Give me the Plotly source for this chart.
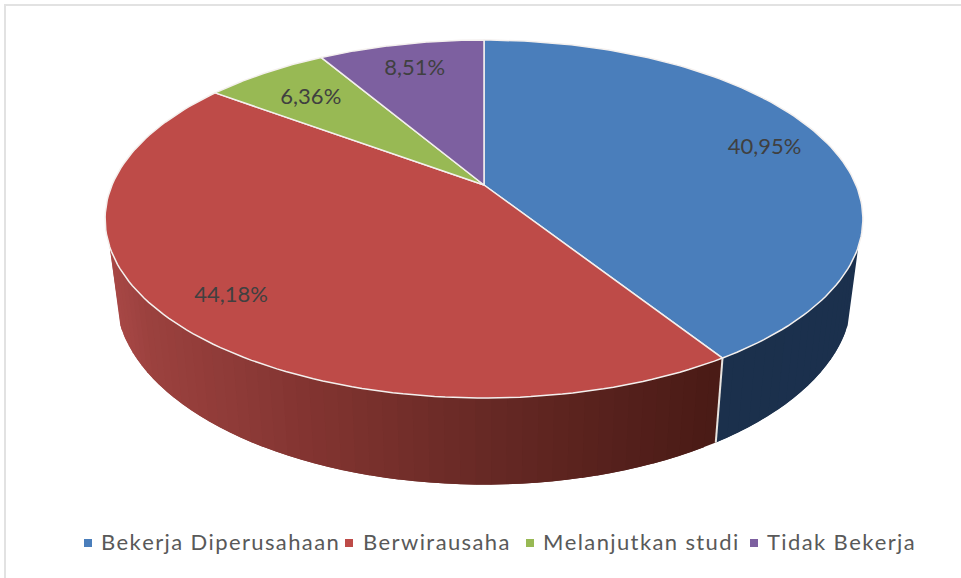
import numpy as np
import plotly.graph_objects as go

categories = ['Bekerja Diperusahaan', 'Berwirausaha', 'Melanjutkan studi', 'Tidak Bekerja']
values = [40.95, 44.18, 6.36, 8.51]
value_labels = ['40,95%', '44,18%', '6,36%', '8,51%']
top_colors = ['#4a7ebb', '#be4b48', '#98b954', '#7d60a0']

# where the label sits along each slice's middle (share of the radius)
label_radius = [0.82, 0.83, 0.77, 0.81]
LABEL_DY = 2
legend_marker_x = [88, 349, 530, 754]
legend_text_x = [101, 363, 543, 767]
LEGEND_Y = 543
LEGEND_TEXT_Y = 544

# projection of the tilted disc onto the page, perspective term K
K = 0.19
TOP = dict(cx=484, cy=185, a=372, b=172.5)
BOTTOM = dict(cx=484, cy=260, a=361.5, b=182)
WALL_LIMIT = np.degrees(np.arccos(-0.336))  # where the side wall appears from behind the top


def project(deg, r=1.0, disc=TOP):
    t = np.radians(deg)
    u, v = r * np.sin(t), r * np.cos(t)
    w = 1 + K * v
    return disc['cx'] + disc['a'] * u / w, disc['cy'] - disc['b'] * v / w


def spaced(text):
    # tracked-out legend lettering
    return '\u200a'.join(text)


def lerp_color(stops, x):
    xs = [s[0] for s in stops]
    return 'rgb(%d,%d,%d)' % tuple(np.interp(x, xs, [s[1][i] for s in stops]) for i in range(3))


red_wall = [(110, (168, 72, 70)), (145, (156, 66, 63)), (300, (132, 53, 50)),
            (500, (101, 40, 36)), (716, (74, 27, 22))]
blue_wall = [(716, (27, 48, 76)), (860, (27, 48, 78))]

fig = go.Figure()


def polygon(xs, ys, color, line_color=None, line_width=0):
    fig.add_trace(go.Scatter(x=xs, y=ys, mode='lines', fill='toself', fillcolor=color,
                             line=dict(color=line_color or color, width=line_width),
                             hoverinfo='skip', showlegend=False))


# side wall, cut in narrow strips for the shading; each strip runs under the next one
ends = np.cumsum(values) / sum(values) * 360
step = 2.0
for start, stop, stops in [(WALL_LIMIT, ends[0], blue_wall), (ends[0], 360 - WALL_LIMIT, red_wall)]:
    n = int(np.ceil((stop - start) / step))
    edges = np.linspace(start, stop, n + 1)
    for a0, a1 in zip(edges[:-1], edges[1:]):
        arc = np.linspace(a0, min(a1 + step, stop), 6)
        tx, ty = project(arc)
        bx, by = project(arc[::-1], disc=BOTTOM)
        mid_x = project((a0 + a1) / 2)[0]
        polygon(list(tx) + list(bx), list(ty) + list(by), lerp_color(stops, float(mid_x)))

# seam between the red and blue wall
sx0, sy0 = project(ends[0])
sx1, sy1 = project(ends[0], disc=BOTTOM)
fig.add_trace(go.Scatter(x=[sx0, sx1], y=[sy0, sy1], mode='lines', line=dict(color='#e8e4e0', width=2),
                         hoverinfo='skip', showlegend=False))

# top face
start = 0.0
for i, stop in enumerate(ends):
    arc = np.linspace(start, stop, 120)
    ax, ay = project(arc)
    polygon([TOP['cx']] + list(ax) + [TOP['cx']], [TOP['cy']] + list(ay) + [TOP['cy']],
            top_colors[i], '#f4f0ee', 1.5)
    start = stop

# data labels
start = 0.0
label_x, label_y = [], []
for i, stop in enumerate(ends):
    lx, ly = project((start + stop) / 2, label_radius[i])
    label_x.append(lx)
    label_y.append(ly + LABEL_DY)
    start = stop
fig.add_trace(go.Scatter(x=label_x, y=label_y, mode='text', text=value_labels, textposition='middle center',
                         textfont=dict(family='Lato', size=22, color='#404040'),
                         hoverinfo='skip', showlegend=False))

# legend, drawn by hand so the first entry can run into the second marker
fig.add_trace(go.Scatter(x=legend_text_x, y=[LEGEND_TEXT_Y] * 4, mode='text', text=[spaced(c) for c in categories],
                         textposition='middle right',
                         textfont=dict(family='Lato', size=22, color='#595959'),
                         hoverinfo='skip', showlegend=False))
fig.add_trace(go.Scatter(x=[legend_marker_x[1] - 2], y=[LEGEND_Y], mode='markers',
                         marker=dict(symbol='square', size=16, color='white'),
                         hoverinfo='skip', showlegend=False))
fig.add_trace(go.Scatter(x=legend_marker_x, y=[LEGEND_Y] * 4, mode='markers',
                         marker=dict(symbol='square', size=8, color=top_colors),
                         hoverinfo='skip', showlegend=False))

# chart frame, only top and left show in the crop
fig.add_shape(type='path', path='M 5 578 L 5 5 L 961 5', line=dict(color='#e2e2e2', width=2), layer='below')

fig.update_layout(
    width=961, height=578,
    margin=dict(l=0, r=0, t=0, b=0),
    paper_bgcolor='white', plot_bgcolor='white',
    showlegend=False,
    xaxis=dict(range=[0, 961], visible=False, fixedrange=True),
    yaxis=dict(range=[578, 0], visible=False, fixedrange=True),
)

fig.write_html("out.html", config={'displayModeBar': False},
               post_script="document.body.style.margin = '0';")
